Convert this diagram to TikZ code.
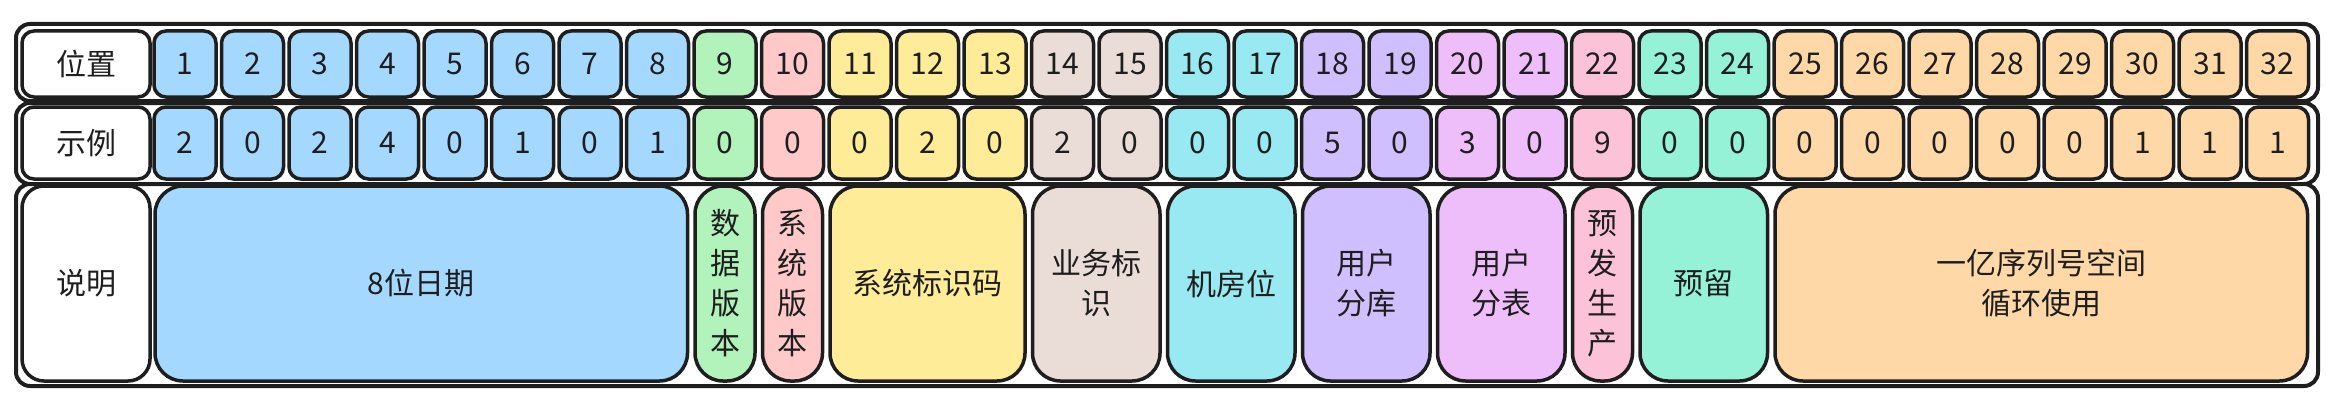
\documentclass[tikz,border=0pt]{standalone}
\usepackage{fontspec}
\setmainfont{Noto Sans CJK SC}
\definecolor{ink}{HTML}{1E1E1E}
\definecolor{cblue}{HTML}{A5D8FF}
\definecolor{cgreen}{HTML}{B2F2BB}
\definecolor{cred}{HTML}{FFC9C9}
\definecolor{cyellow}{HTML}{FFEC99}
\definecolor{cbronze}{HTML}{EADDD7}
\definecolor{ccyan}{HTML}{99E9F2}
\definecolor{cviolet}{HTML}{D0BFFF}
\definecolor{cgrape}{HTML}{EEBEFA}
\definecolor{cpink}{HTML}{FCC2D7}
\definecolor{cteal}{HTML}{96F2D7}
\definecolor{corange}{HTML}{FFD8A8}
\tikzset{
 cellbox/.style={draw=ink,line width=3.5pt,rounded corners=12pt,inner sep=0pt,minimum width=62pt,text=ink,font=\fontsize{30}{36}\selectfont},
 descbox/.style={cellbox,rounded corners=28pt,align=center,font=\fontsize{30}{40}\selectfont},
 rowframe/.style={draw=ink,line width=4pt,fill=white,rounded corners=14pt}
}
\begin{document}
\begin{tikzpicture}[x=1pt,y=-1pt]
 \useasboundingbox (0,0) rectangle (2335,404);
 \draw[rowframe] (16,24) rectangle (2318,101); \draw[rowframe] (16,103) rectangle (2318,184); \draw[rowframe] (16,184) rectangle (2318,386);
 \node[cellbox,fill=white,minimum width=128pt,minimum height=66pt] (lpos) at (86,64) {位置};
 \node[cellbox,fill=white,minimum width=128pt,minimum height=72pt] (lex) at (86,143) {示例};
 \node[descbox,fill=white,minimum width=128pt,minimum height=195pt,rounded corners=22pt] (ldesc) at (86,283.5) {说明};
 \foreach \i/\v/\c in {1/2/cblue,2/0/cblue,3/2/cblue,4/4/cblue,5/0/cblue,6/1/cblue,7/0/cblue,8/1/cblue,9/0/cgreen,10/0/cred,
  11/0/cyellow,12/2/cyellow,13/0/cyellow,14/2/cbronze,15/0/cbronze,16/0/ccyan,17/0/ccyan,18/5/cviolet,19/0/cviolet,20/3/cgrape,21/0/cgrape,
  22/9/cpink,23/0/cteal,24/0/cteal,25/0/corange,26/0/corange,27/0/corange,28/0/corange,29/0/corange,30/1/corange,31/1/corange,32/1/corange}{
  \node[cellbox,fill=\c,minimum height=66pt] (p\i) at ({185+67.5*(\i-1)},64) {\i};
  \node[cellbox,fill=\c,minimum height=72pt] (e\i) at ({185+67.5*(\i-1)},143) {\v};}
 \foreach \a/\b/\c/\t in {1/8/cblue/{8位日期},9/9/cgreen/{数\\据\\版\\本},10/10/cred/{系\\统\\版\\本},11/13/cyellow/{系统标识码},
  14/15/cbronze/{业务标\\识},16/17/ccyan/{机房位},18/19/cviolet/{用户\\分库},20/21/cgrape/{用户\\分表},22/22/cpink/{预\\发\\生\\产},
  23/24/cteal/{预留},25/32/corange/{一亿序列号空间\\循环使用}}{
  \node[descbox,fill=\c,minimum width={67.5*(\b-\a)+60},minimum height=195pt] (d\a) at ({154+67.5*(\a-1)+(67.5*(\b-\a)+62)/2},283.5) {\t};}
\end{tikzpicture}
\end{document}
